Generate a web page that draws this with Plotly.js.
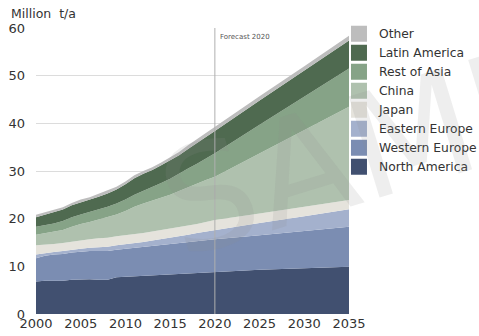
<!DOCTYPE html>
<html>
<head>
<meta charset="utf-8">
<script src="https://cdn.plot.ly/plotly-3.0.1.min.js"></script>
<style>html,body{margin:0;padding:0;background:#fff;}#chart{width:479px;height:336px;}</style>
</head>
<body>
<div id="chart"></div>
<script>
const years = [2000,2001,2002,2003,2004,2005,2006,2007,2008,2009,2010,2011,2012,2013,2014,2015,2016,2017,2018,2019,2020,2025,2030,2035];
const northAmerica = [6.8,7.0,7.0,7.0,7.2,7.3,7.3,7.2,7.2,7.7,7.8,7.9,8.1,8.2,8.3,8.4,8.5,8.6,8.7,8.8,8.9,9.3,9.6,9.9];
const westernEurope = [4.9,5.2,5.5,5.6,5.7,5.8,5.9,6.0,6.0,5.8,5.9,6.0,6.0,6.1,6.2,6.3,6.4,6.5,6.6,6.7,6.8,7.2,7.8,8.4];
const easternEurope = [0.8,0.6,0.5,0.6,0.6,0.6,0.7,0.8,0.9,0.9,0.9,1.0,1.0,1.1,1.2,1.2,1.4,1.5,1.7,1.8,2.0,2.6,3.1,3.7];
const japan = [1.9,1.7,1.7,1.7,1.7,1.8,1.8,1.9,1.9,1.9,1.9,1.9,1.9,1.9,1.9,2.0,2.0,2.0,1.9,2.0,2.0,2.0,2.0,1.9];
const china = [2.2,2.4,2.5,2.7,3.1,3.4,3.6,3.9,4.3,4.6,5.1,5.7,6.2,6.5,6.8,7.1,7.5,8.0,8.4,8.8,9.1,12.6,16.1,19.6];
const restOfAsia = [1.7,1.7,1.8,1.9,2.0,2.0,2.1,2.1,2.2,2.3,2.4,2.5,2.6,2.8,3.1,3.4,3.7,3.9,4.2,4.5,4.9,6.0,7.0,8.0];
const latinAmerica = [2.0,2.2,2.3,2.4,2.5,2.5,2.5,2.7,2.8,2.9,3.2,3.5,3.6,3.6,3.7,3.8,3.8,4.1,4.4,4.5,4.7,5.1,5.5,5.9];
const other = [0.5,0.5,0.5,0.5,0.5,0.6,0.6,0.6,0.6,0.6,0.6,0.6,0.6,0.6,0.6,0.7,0.7,0.8,0.8,0.9,0.9,0.9,0.9,1.0];

const seriesNames = ['North America','Western Europe','Eastern Europe','Japan','China','Rest of Asia','Latin America','Other'];
const seriesData = [northAmerica, westernEurope, easternEurope, japan, china, restOfAsia, latinAmerica, other];
const seriesColors = ['#415070','#7b8db2','#a4b1cd','#e5e3dc','#afc1ae','#86a387','#4f6a50','#bdbdbd'];

const xTicks = [2000,2005,2010,2015,2020,2025,2030,2035];
const yTicks = [0,10,20,30,40,50,60];

const areaTraces = seriesNames.map((n,i)=>({
  type:'scatter', mode:'lines', name:n, x:years, y:seriesData[i],
  stackgroup:'one', fillcolor:seriesColors[i], showlegend:false,
  line:{width:0, color:seriesColors[i]}
}));
// legend-only entries with square swatches
const legendTraces = seriesNames.map((n,i)=>({
  type:'scatter', mode:'markers', name:n, x:[null], y:[null],
  marker:{symbol:'square', size:16, color:seriesColors[i]}, showlegend:true
}));

const layout = {
  width:479, height:336,
  margin:{l:36, r:130, t:28, b:22, autoexpand:false},
  paper_bgcolor:'#fff', plot_bgcolor:'#fff',
  font:{family:'DejaVu Sans', size:13, color:'#333'},
  showlegend:true,
  legend:{x:0.968, xanchor:'left', y:1.031, yanchor:'top', traceorder:'reversed',
          bgcolor:'rgba(0,0,0,0)', font:{family:'DejaVu Sans', size:12.3, color:'#333'},
          tracegroupgap:0, itemwidth:30},
  xaxis:{range:[2000,2035], tickvals:xTicks, showgrid:false, zeroline:false, showline:false,
         ticks:'', tickfont:{size:13, color:'#333'}, fixedrange:true},
  yaxis:{range:[0,60], tickvals:yTicks, showgrid:true, gridcolor:'#dcdcdc', gridwidth:1,
         zeroline:false, ticks:'', ticklabelstandoff:10, tickfont:{size:13, color:'#333'}, fixedrange:true},
  shapes:[{type:'line', xref:'x', yref:'paper', x0:2020, x1:2020, y0:0, y1:1,
           line:{color:'#b0b0b0', width:1}, layer:'above'}],
  annotations:[
    {text:'Million  t/a', xref:'paper', yref:'paper', x:-0.0863, y:1.084, xanchor:'left', yanchor:'top',
     showarrow:false, font:{size:12.5, color:'#333'}},
    {text:'Forecast 2020', xref:'x', yref:'y', x:2020.3, y:59.3, xanchor:'left', yanchor:'top',
     showarrow:false, font:{size:7, color:'#555'}},
    {text:'SAMPLE', xref:'paper', yref:'paper', x:1.30, y:0.66, xanchor:'center', yanchor:'middle',
     showarrow:false, textangle:-17, font:{size:145, color:'rgba(140,140,140,0.15)', family:'DejaVu Sans'}}
  ]
};
Plotly.newPlot('chart', areaTraces.concat(legendTraces), layout, {displayModeBar:false, staticPlot:true});
</script>
</body>
</html>
